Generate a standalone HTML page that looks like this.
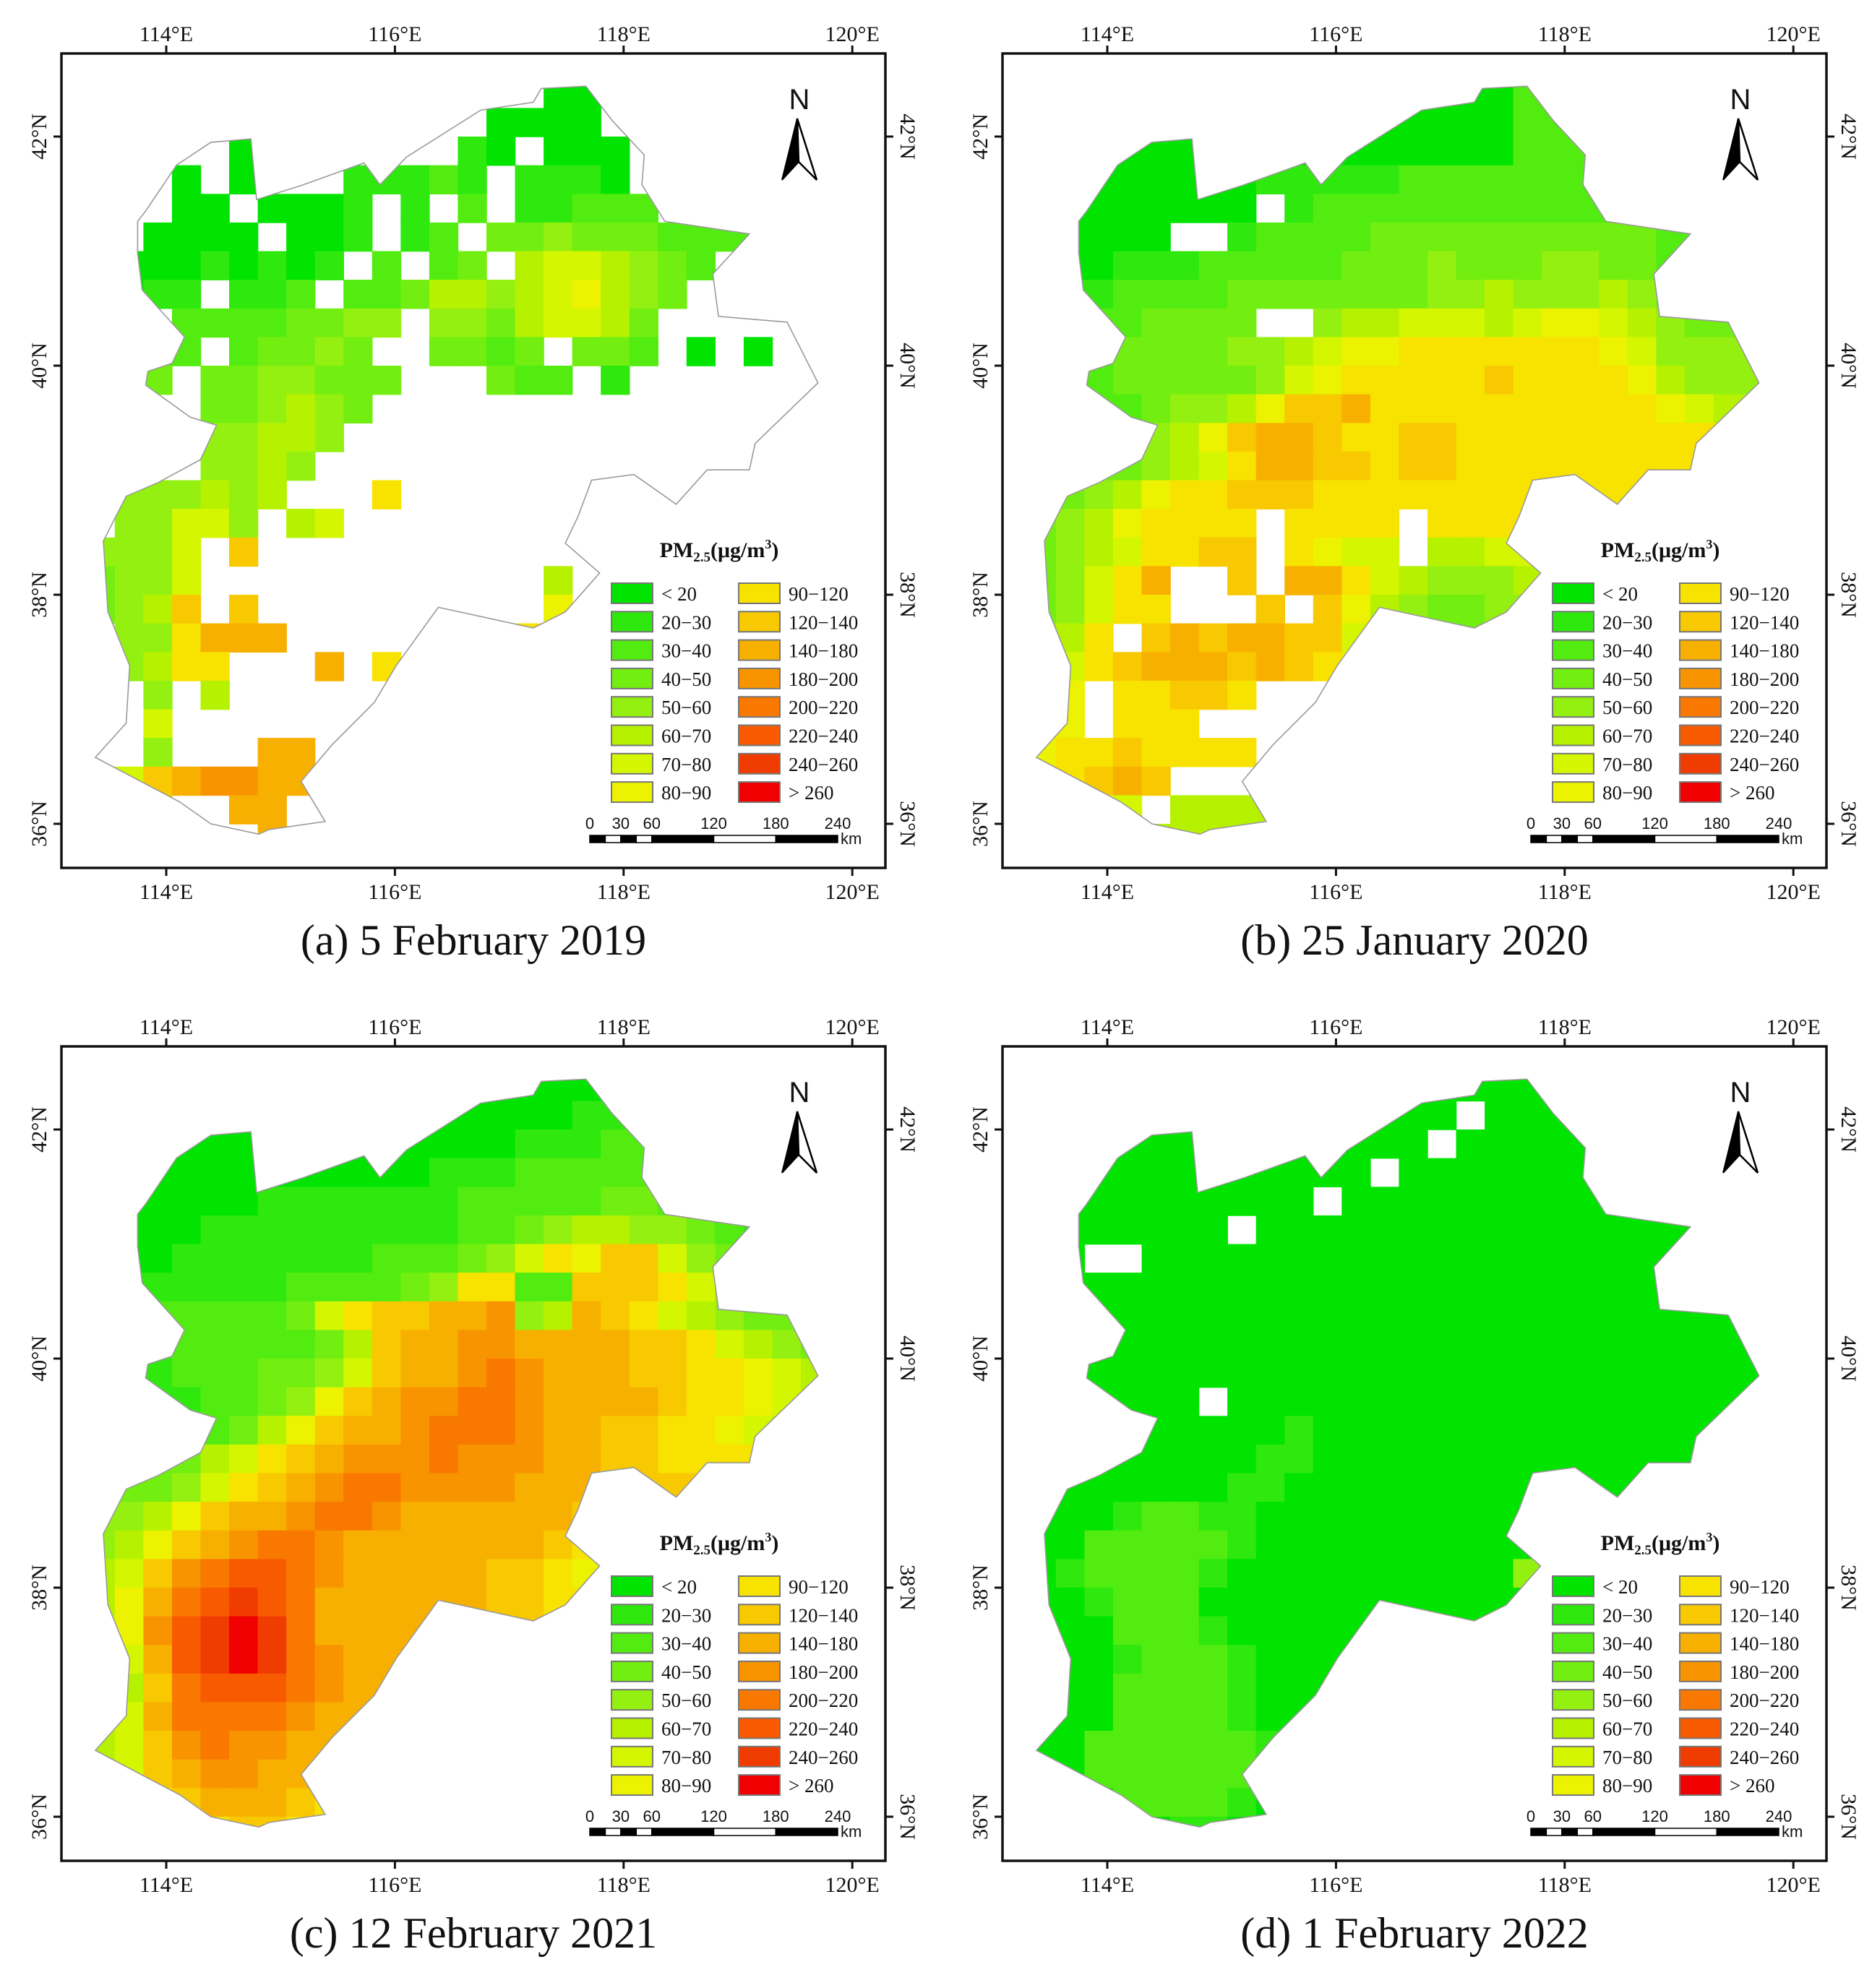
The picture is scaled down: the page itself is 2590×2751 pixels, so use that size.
<!DOCTYPE html>
<html><head><meta charset="utf-8">
<style>
html,body{margin:0;padding:0;background:#fff;}
svg{display:block;}
text{font-family:"Liberation Serif",serif;fill:#111;}
.sans{font-family:"Liberation Sans",sans-serif;}
</style></head>
<body>
<svg id="fig" xmlns="http://www.w3.org/2000/svg" width="2590" height="2751" viewBox="0 0 2590 2751"></svg>
<script>
const classColors = ["#00e400","#2ee80e","#52ec10","#72ee10","#94f010","#b6f200","#d4f600","#ecf200","#f8e200","#f8c800","#f8b000","#f89400","#f87800","#f85a00","#f03c00","#f00000"];
const classLabels = ["< 20","20\u221230","30\u221240","40\u221250","50\u221260","60\u221270","70\u221280","80\u221290","90\u2212120","120\u2212140","140\u2212180","180\u2212200","200\u2212220","220\u2212240","240\u2212260","> 260"];
const lonTicks = [114,116,118,120];
const latTicks = [36,38,40,42];
const scaleKm = [0,30,60,120,180,240];
const gridLon0 = 113.3, gridLat0 = 42.5, gridStep = 0.25;
const outlineLon = [113.75,113.82,114.09,114.39,114.74,114.79,115.20,115.73,115.87,116.10,116.75,117.21,117.28,117.67,117.90,118.18,118.16,118.36,119.10,118.78,118.83,119.43,119.70,119.15,119.10,118.73,118.46,118.09,117.72,117.60,117.49,117.79,117.49,117.21,116.38,116.01,115.82,115.45,115.18,115.39,114.90,114.81,114.39,114.12,113.38,113.65,113.68,113.49,113.45,113.65,113.93,114.30,114.44,114.21,113.82,113.84,114.05,114.16,113.79,113.75];
const outlineLat = [41.26,41.35,41.75,41.95,41.98,41.45,41.58,41.77,41.58,41.82,42.23,42.30,42.42,42.44,42.14,41.84,41.58,41.26,41.15,40.80,40.43,40.38,39.85,39.32,39.09,39.09,38.79,39.05,39.00,38.68,38.45,38.19,37.85,37.71,37.89,37.38,37.06,36.69,36.37,36.02,35.95,35.91,36.00,36.19,36.58,36.88,37.38,37.85,38.47,38.86,38.98,39.18,39.48,39.55,39.83,39.95,40.02,40.25,40.66,40.98];

const gridA = [
"................00........",
"..............0000........",
".....0.......10.000.......",
"...0.0...11121.1110.......",
"...00.0001.1.2.11222......",
"..0000.001.12.3343332222..",
"000010101.2.23.5665432....",
".011.112.223554567543.....",
"...22223344.44356653......",
"..22.23343..3323.332.0.0..",
".33.3344333...322.1.......",
"....334543................",
"....44554.................",
"....4454..................",
".444545...8...............",
".44664.56.................",
"4446.9....................",
"3446............5.........",
"3459.9..........7.........",
".448aaa.......88..........",
".4588...a.8...............",
"..4.5.....................",
"..6.......................",
"..4...aa.a................",
"569abbaa..................",
".89..aa...................",
"......a..................."];
const gridB = [
"00000000000000000220000000",
"00000000000000000222000000",
"00000000000000000222200000",
"00000000111112222222200000",
"00000000.12222222222221111",
"00000..1222233333333332222",
"00011122222333433344332222",
"11122223333333445444543222",
"22223333..4556665677654333",
"22233334456778888888764444",
"22233333467888889888875444",
"22223445799a88888888887655",
"33334579aa9889988888888888",
"33334568aa9989988888888888",
"33457889998888888888888888",
"34578888.8888.888888888888",
"34568899.8766.556666666666",
"3468a..9.aa865444555555555",
"34688...9.9754334444444444",
"458.9a9aa99644333333333333",
"5689aaa9a98766666666666666",
"57.88998...888888888888888",
"67.888....8888888888888888",
"78898888.88888888888888888",
"789a9....88888888888888888",
"7776.555555555555555555555",
"55555555555555555555555555"];
const gridC = [
"00000000000000000000000000",
"00000000000000000111000000",
"00000000000000011122100000",
"00000000000011122222110000",
"00000011111112222233221000",
"00001111111112234554432100",
"00011111112223468799643210",
"01111112222348822999864321",
"112222236899aab45a98654333",
"11222222359aabbaaaa9986543",
"11122233469aabcbaaa9988765",
"1111223479abbccbaaaa988765",
"222223579aabcccbaa99887655",
"33335689abbbcbbbaa99888888",
"3334689abccbbbbaaa99999999",
"44579aabccbaaaaaa999999999",
"4579abccbaaaaaaa9888888888",
"569bcddcbaaaaa998777777777",
"57acdedcaaaaaa998888888888",
"67bdefecaaaaaa999999999999",
"56adefecbaaaa9999999999999",
"559cdddcbaaa99999999999999",
"56accccbaa9999999999999999",
"569bcbbaa99999999999999999",
"469abbaa999999999999999999",
"6689aaa9888888888888888888",
"88888998888888888888888888"];
const gridD = [
"00000000000000000000000000",
"000000000000000.0000000000",
"00000000000000.00000000000",
"000000000000.0000000000000",
"0000000000.000000000000000",
"0000000.000000000000000000",
"00..0000000000000000000000",
"00000000000000000000000000",
"00000000000000000000000000",
"00000000000000000000000000",
"00000000000000000000000000",
"000000.0000000000000000000",
"00000000010000000000000000",
"00000000110000000000000000",
"00000001100000000000000000",
"00012211000000000000000000",
"00222221000000000000000000",
"01222210000000000400000000",
"00122200000000000000000000",
"00022210000000000000000000",
"00012221000000000000000000",
"00022221000000000000000000",
"00022221000000000000000000",
"00222222100000000000000000",
"00222222100000000000000000",
"00022221000000000000000000",
"00000110000000000000000000"];

const panels = [
  {id:"a", ox:85,   oy:74,   grid:gridA, caption:"(a) 5 February 2019"},
  {id:"b", ox:1387, oy:74,   grid:gridB, caption:"(b) 25 January 2020"},
  {id:"c", ox:85,   oy:1448, grid:gridC, caption:"(c) 12 February 2021"},
  {id:"d", ox:1387, oy:1448, grid:gridD, caption:"(d) 1 February 2022"}
];
const NS = "http://www.w3.org/2000/svg";
const svg = document.getElementById("fig");
const FW = 1140, FH = 1127, PX = 158.2, PY = 158.5;
function mk(tag, attrs, parent){
  const e = document.createElementNS(NS, tag);
  for (const k in attrs) e.setAttribute(k, attrs[k]);
  (parent||svg).appendChild(e);
  return e;
}
function lonX(p, lon){ return p.ox + 145 + (lon-114)*PX; }
function latY(p, lat){ return p.oy + 115 + (42-lat)*PY; }

panels.forEach(p => {
  const g = mk("g", {});
  
  
  const cp = mk("clipPath", {id:"clip-"+p.id}, g);
  const pts = outlineLon.map((lo,i)=>lonX(p,lo).toFixed(1)+","+latY(p,outlineLat[i]).toFixed(1)).join(" ");
  mk("polygon", {points:pts}, cp);
  const hg = mk("g", {"clip-path":"url(#clip-"+p.id+")"}, g);
  
  
  p.grid.forEach((row, i) => {
    for (let j = 0; j < row.length; j++) {
      const ch = row[j];
      if (ch === "." ) continue;
      const v = parseInt(ch, 16);
      if (isNaN(v)) continue;
      const lon = gridLon0 + j*gridStep, lat = gridLat0 - i*gridStep;
      const x = lonX(p, lon), y = latY(p, lat);
      const c = mk("rect", {x:x.toFixed(1), y:y.toFixed(1), width:(gridStep*PX+0.8).toFixed(1), height:(gridStep*PY+0.8).toFixed(1), fill:classColors[v]}, hg);
      
      
    }
  });
  const ol = mk("polygon", {points:pts, fill:"none", stroke:"#9a9a9a", "stroke-width":"1.6"}, g);
  
  
  const fr = mk("rect", {x:p.ox, y:p.oy, width:FW, height:FH, fill:"none", stroke:"#111", "stroke-width":"3.5"}, g);
  
  
  lonTicks.forEach(lo => {
    const x = lonX(p, lo);
    mk("line", {x1:x, x2:x, y1:p.oy-11, y2:p.oy, stroke:"#111","stroke-width":3}, g);
    mk("line", {x1:x, x2:x, y1:p.oy+FH, y2:p.oy+FH+11, stroke:"#111","stroke-width":3}, g);
    const t1 = mk("text", {x:x, y:p.oy-17, "font-size":30, "text-anchor":"middle"}, g);
    t1.textContent = lo + "\u00B0E";
    
    
    const t2 = mk("text", {x:x, y:p.oy+FH+43, "font-size":30, "text-anchor":"middle"}, g);
    t2.textContent = lo + "\u00B0E";
    
    
  });
  latTicks.forEach(la => {
    const y = latY(p, la);
    mk("line", {x1:p.ox-11, x2:p.ox, y1:y, y2:y, stroke:"#111","stroke-width":3}, g);
    mk("line", {x1:p.ox+FW, x2:p.ox+FW+11, y1:y, y2:y, stroke:"#111","stroke-width":3}, g);
    const xl = p.ox-21, xr = p.ox+FW+21;
    const t1 = mk("text", {x:xl, y:y, "font-size":30, "text-anchor":"middle", transform:"rotate(-90 "+xl+" "+y+")"}, g);
    t1.textContent = la + "\u00B0N";
    
    
    const t2 = mk("text", {x:xr, y:y, "font-size":30, "text-anchor":"middle", transform:"rotate(90 "+xr+" "+y+")"}, g);
    t2.textContent = la + "\u00B0N";
    
    
  });
  const ng = mk("g", {}, g);
  
  
  const nx = p.ox + 1021, ny = p.oy;
  const nt = mk("text", {x:nx, y:ny+77, "font-size":40, "text-anchor":"middle", class:"sans"}, ng);
  nt.textContent = "N";
  mk("polygon", {points:(nx-3)+","+(ny+90)+" "+(nx-24)+","+(ny+175)+" "+(nx-1)+","+(ny+150), fill:"#000", stroke:"#000","stroke-width":2}, ng);
  mk("polygon", {points:(nx-3)+","+(ny+90)+" "+(nx-1)+","+(ny+150)+" "+(nx+24)+","+(ny+175), fill:"#fff", stroke:"#000","stroke-width":2.5}, ng);
  const lg = mk("g", {}, g);
  
  
  const tt = mk("text", {x:p.ox+910, y:p.oy+697, "font-size":30, "font-weight":"bold", "text-anchor":"middle"}, lg);
  tt.innerHTML = 'PM<tspan font-size="19" dy="6">2.5</tspan><tspan dy="-6">(\u03BCg/m</tspan><tspan font-size="18" dy="-12">3</tspan><tspan dy="12">)</tspan>';
  
  
  classColors.forEach((col, k) => {
    const colIdx = Math.floor(k/8), r = k%8;
    const sx = p.ox + (colIdx ? 937 : 761), sy = p.oy + 733 + r*39.3;
    const sw = mk("rect", {x:sx, y:sy, width:57, height:28, fill:col, stroke:"#777","stroke-width":2}, lg);
    
    
    const lt = mk("text", {x:sx+69, y:sy+24, "font-size":27}, lg);
    lt.textContent = classLabels[k];
    
    
  });
  const sb = mk("g", {}, g);
  
  
  const x0 = p.ox+731, kmPx = (1074-731)/240;
  const segs = [0,15,30,45,60,120,180,240];
  for (let s = 0; s < segs.length-1; s++) {
    mk("rect", {x:x0+segs[s]*kmPx, y:p.oy+1082, width:(segs[s+1]-segs[s])*kmPx, height:10, fill:(s%2===0?"#000":"#fff"), stroke:"#000","stroke-width":1.5}, sb);
  }
  scaleKm.forEach(km => {
    const st = mk("text", {x:x0+km*kmPx, y:p.oy+1073, "font-size":22, "text-anchor":"middle", class:"sans"}, sb);
    st.textContent = km;
    
    
  });
  const kt = mk("text", {x:x0+240*kmPx+4, y:p.oy+1094, "font-size":22, class:"sans"}, sb);
  kt.textContent = "km";
  const cap = mk("text", {x:p.ox+FW/2, y:p.oy+FH+120, "font-size":60, "text-anchor":"middle"}, g);
  cap.textContent = p.caption;
  
  
});
</script>
</body></html>
